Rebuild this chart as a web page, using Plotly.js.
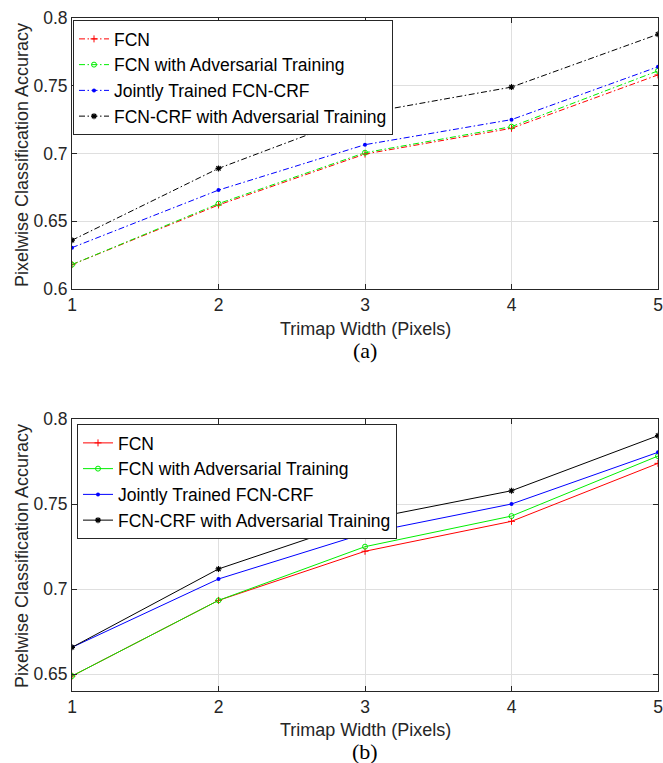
<!DOCTYPE html>
<html>
<head>
<meta charset="utf-8">
<script src="https://cdn.plot.ly/plotly-3.0.1.min.js"></script>
<style>html,body{margin:0;padding:0;background:#fff;}#chart{width:663px;height:763px;}</style>
</head>
<body>
<div id="chart"></div>
<script>
const trimapWidth = [1, 2, 3, 4, 5];
const seriesNames = ["FCN", "FCN with Adversarial Training", "Jointly Trained FCN-CRF", "FCN-CRF with Adversarial Training"];

// (a)
const fcnA      = [0.618, 0.662, 0.6996, 0.7186, 0.758];
const fcnAdvA   = [0.618, 0.663, 0.7006, 0.7198, 0.761];
const jointA    = [0.6305, 0.673, 0.7065, 0.725, 0.764];
const crfAdvA   = [0.636, 0.689, 0.7297, 0.749, 0.788];

// (b)
const fcnB      = [0.6488, 0.6933, 0.7222, 0.7398, 0.7739];
const fcnAdvB   = [0.6488, 0.6933, 0.7249, 0.7429, 0.7782];
const jointB    = [0.6657, 0.7059, 0.7327, 0.750, 0.7804];
const crfAdvB   = [0.6657, 0.7118, 0.7408, 0.7578, 0.7902];

const yTicksA = [0.6, 0.65, 0.7, 0.75, 0.8];
const yTickTextA = ["0.6", "0.65", "0.7", "0.75", "0.8"];
const yTicksB = [0.65, 0.7, 0.75, 0.8];
const yTickTextB = ["0.65", "0.7", "0.75", "0.8"];
const xTickText = ["1", "2", "3", "4", "5"];

const colors = ["#ff0000", "#00ee00", "#0000ff", "#000000"];
const markers = [
  {symbol: "cross-thin-open", size: 5, line: {width: 1}},
  {symbol: "circle-open", size: 5, line: {width: 1}},
  {symbol: "circle", size: 4, line: {width: 0}},
  {symbol: "asterisk-open", size: 5, line: {width: 1.2}}
];

function makeTraces(data, xa, ya, dash, legend) {
  return data.map((vals, i) => ({
    x: trimapWidth, y: vals, xaxis: xa, yaxis: ya,
    type: "scatter", mode: "lines+markers", name: seriesNames[i],
    legend: legend,
    line: {color: colors[i], width: 1, dash: dash},
    marker: Object.assign({color: colors[i]}, markers[i], {line: Object.assign({color: colors[i]}, markers[i].line)})
  }));
}

const traces = makeTraces([fcnA, fcnAdvA, jointA, crfAdvA], "x", "y", "6px,2.5px,1.5px,2.5px", "legend")
  .concat(makeTraces([fcnB, fcnAdvB, jointB, crfAdvB], "x2", "y2", "solid", "legend2"));

const fam = "Liberation Sans, Arial, sans-serif";
const font = {family: fam, size: 18, color: "#262626"};
const axisCommon = {
  showline: true, linecolor: "#262626", linewidth: 1, mirror: "ticks",
  ticks: "inside", ticklen: 5, tickcolor: "#262626", tickwidth: 1,
  showgrid: true, gridcolor: "#dfdfdf", gridwidth: 1, zeroline: false,
  tickfont: {family: fam, size: 17.5, color: "#262626"}, fixedrange: true
};
const xDomain = [72/663, 658/663];

const legendCommon = {
  xanchor: "left", yanchor: "top", bgcolor: "#ffffff",
  bordercolor: "#262626", borderwidth: 1,
  font: {family: fam, size: 17.5, color: "#000"},
  tracegroupgap: 0, itemwidth: 30
};

const layout = {
  width: 663, height: 763,
  margin: {l: 0, r: 0, t: 0, b: 0},
  paper_bgcolor: "#ffffff", plot_bgcolor: "#ffffff",
  showlegend: true,
  xaxis: Object.assign({}, axisCommon, {domain: xDomain, range: [1, 5], tickvals: trimapWidth, ticktext: xTickText, anchor: "y"}),
  yaxis: Object.assign({}, axisCommon, {domain: [1-289/763, 1-18/763], range: [0.6, 0.8], tickvals: yTicksA, ticktext: yTickTextA, anchor: "x"}),
  xaxis2: Object.assign({}, axisCommon, {domain: xDomain, range: [1, 5], tickvals: trimapWidth, ticktext: xTickText, anchor: "y2"}),
  yaxis2: Object.assign({}, axisCommon, {domain: [1-691/763, 1-419/763], range: [0.64, 0.8], tickvals: yTicksB, ticktext: yTickTextB, anchor: "x2"}),
  legend: Object.assign({}, legendCommon, {x: 73/663, y: 1-20/763}),
  legend2: Object.assign({}, legendCommon, {x: 77/663, y: 1-424/763}),
  annotations: [
    {text: "Pixelwise Classification Accuracy", xref: "paper", yref: "paper", x: 22/663, y: 1-155/763, textangle: -90, showarrow: false, font: font, xanchor: "center", yanchor: "middle"},
    {text: "Pixelwise Classification Accuracy", xref: "paper", yref: "paper", x: 22/663, y: 1-556/763, textangle: -90, showarrow: false, font: font, xanchor: "center", yanchor: "middle"},
    {text: "Trimap Width (Pixels)", xref: "paper", yref: "paper", x: 365/663, y: 1-329/763, showarrow: false, font: font, xanchor: "center", yanchor: "middle"},
    {text: "Trimap Width (Pixels)", xref: "paper", yref: "paper", x: 365/663, y: 1-730/763, showarrow: false, font: font, xanchor: "center", yanchor: "middle"},
    {text: "(a)", xref: "paper", yref: "paper", x: 365/663, y: 1-351/763, showarrow: false, font: {family: "Liberation Serif, Times New Roman, serif", size: 22, color: "#000"}, xanchor: "center", yanchor: "middle"},
    {text: "(b)", xref: "paper", yref: "paper", x: 365/663, y: 1-751/763, showarrow: false, font: {family: "Liberation Serif, Times New Roman, serif", size: 22, color: "#000"}, xanchor: "center", yanchor: "middle"}
  ]
};

Plotly.newPlot("chart", traces, layout, {displayModeBar: false, staticPlot: true});
</script>
</body>
</html>
